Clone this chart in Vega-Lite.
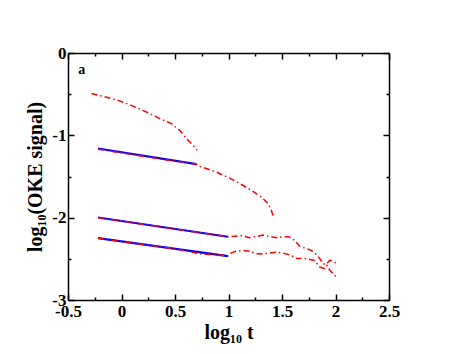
{
  "$schema": "https://vega.github.io/schema/vega-lite/v6.json",
  "width": 321,
  "height": 247,
  "autosize": {"type": "none"},
  "padding": {"left": 68, "top": 53, "right": 69, "bottom": 54},
  "background": "white",
  "datasets": {
    "curves": [
      {"kind": "fit", "series": "B", "x": -0.22, "y": -1.16},
      {"kind": "fit", "series": "B", "x": 0.70, "y": -1.35},
      {"kind": "fit", "series": "C", "x": -0.22, "y": -1.998},
      {"kind": "fit", "series": "C", "x": 0.995, "y": -2.232},
      {"kind": "fit", "series": "D", "x": -0.22, "y": -2.248},
      {"kind": "fit", "series": "D", "x": 0.995, "y": -2.467},

      {"kind": "data", "series": "A", "x": -0.281, "y": -0.493},
      {"kind": "data", "series": "A", "x": -0.173, "y": -0.526},
      {"kind": "data", "series": "A", "x": -0.033, "y": -0.575},
      {"kind": "data", "series": "A", "x": 0.092, "y": -0.636},
      {"kind": "data", "series": "A", "x": 0.233, "y": -0.717},
      {"kind": "data", "series": "A", "x": 0.357, "y": -0.797},
      {"kind": "data", "series": "A", "x": 0.466, "y": -0.858},
      {"kind": "data", "series": "A", "x": 0.544, "y": -0.939},
      {"kind": "data", "series": "A", "x": 0.607, "y": -1.04},
      {"kind": "data", "series": "A", "x": 0.668, "y": -1.12},
      {"kind": "data", "series": "A", "x": 0.706, "y": -1.18},

      {"kind": "data", "series": "B", "x": -0.22, "y": -1.168},
      {"kind": "data", "series": "B", "x": 0.0, "y": -1.213},
      {"kind": "data", "series": "B", "x": 0.2, "y": -1.254},
      {"kind": "data", "series": "B", "x": 0.4, "y": -1.295},
      {"kind": "data", "series": "B", "x": 0.6, "y": -1.331},
      {"kind": "data", "series": "B", "x": 0.70, "y": -1.352},
      {"kind": "data", "series": "B", "x": 0.731, "y": -1.377},
      {"kind": "data", "series": "B", "x": 0.887, "y": -1.446},
      {"kind": "data", "series": "B", "x": 1.011, "y": -1.52},
      {"kind": "data", "series": "B", "x": 1.106, "y": -1.587},
      {"kind": "data", "series": "B", "x": 1.214, "y": -1.668},
      {"kind": "data", "series": "B", "x": 1.308, "y": -1.75},
      {"kind": "data", "series": "B", "x": 1.37, "y": -1.83},
      {"kind": "data", "series": "B", "x": 1.40, "y": -1.91},
      {"kind": "data", "series": "B", "x": 1.425, "y": -2.01},

      {"kind": "data", "series": "C", "x": -0.22, "y": -2.0},
      {"kind": "data", "series": "C", "x": 0.0, "y": -2.04},
      {"kind": "data", "series": "C", "x": 0.2, "y": -2.08},
      {"kind": "data", "series": "C", "x": 0.4, "y": -2.118},
      {"kind": "data", "series": "C", "x": 0.6, "y": -2.157},
      {"kind": "data", "series": "C", "x": 0.8, "y": -2.195},
      {"kind": "data", "series": "C", "x": 0.995, "y": -2.232},
      {"kind": "data", "series": "C", "x": 1.06, "y": -2.225},
      {"kind": "data", "series": "C", "x": 1.12, "y": -2.218},
      {"kind": "data", "series": "C", "x": 1.198, "y": -2.245},
      {"kind": "data", "series": "C", "x": 1.26, "y": -2.23},
      {"kind": "data", "series": "C", "x": 1.322, "y": -2.212},
      {"kind": "data", "series": "C", "x": 1.385, "y": -2.228},
      {"kind": "data", "series": "C", "x": 1.447, "y": -2.243},
      {"kind": "data", "series": "C", "x": 1.51, "y": -2.232},
      {"kind": "data", "series": "C", "x": 1.572, "y": -2.236},
      {"kind": "data", "series": "C", "x": 1.619, "y": -2.277},
      {"kind": "data", "series": "C", "x": 1.665, "y": -2.349},
      {"kind": "data", "series": "C", "x": 1.72, "y": -2.37},
      {"kind": "data", "series": "C", "x": 1.759, "y": -2.389},
      {"kind": "data", "series": "C", "x": 1.80, "y": -2.42},
      {"kind": "data", "series": "C", "x": 1.836, "y": -2.47},
      {"kind": "data", "series": "C", "x": 1.865, "y": -2.52},
      {"kind": "data", "series": "C", "x": 1.883, "y": -2.559},
      {"kind": "data", "series": "C", "x": 1.91, "y": -2.57},
      {"kind": "data", "series": "C", "x": 1.946, "y": -2.519},
      {"kind": "data", "series": "C", "x": 1.975, "y": -2.53},
      {"kind": "data", "series": "C", "x": 2.008, "y": -2.552},

      {"kind": "data", "series": "D", "x": -0.22, "y": -2.25},
      {"kind": "data", "series": "D", "x": 0.0, "y": -2.29},
      {"kind": "data", "series": "D", "x": 0.2, "y": -2.325},
      {"kind": "data", "series": "D", "x": 0.4, "y": -2.36},
      {"kind": "data", "series": "D", "x": 0.55, "y": -2.39},
      {"kind": "data", "series": "D", "x": 0.62, "y": -2.41},
      {"kind": "data", "series": "D", "x": 0.668, "y": -2.42},
      {"kind": "data", "series": "D", "x": 0.72, "y": -2.44},
      {"kind": "data", "series": "D", "x": 0.8, "y": -2.445},
      {"kind": "data", "series": "D", "x": 0.9, "y": -2.45},
      {"kind": "data", "series": "D", "x": 0.995, "y": -2.465},
      {"kind": "data", "series": "D", "x": 1.011, "y": -2.44},
      {"kind": "data", "series": "D", "x": 1.06, "y": -2.41},
      {"kind": "data", "series": "D", "x": 1.136, "y": -2.397},
      {"kind": "data", "series": "D", "x": 1.2, "y": -2.41},
      {"kind": "data", "series": "D", "x": 1.26, "y": -2.438},
      {"kind": "data", "series": "D", "x": 1.32, "y": -2.44},
      {"kind": "data", "series": "D", "x": 1.385, "y": -2.43},
      {"kind": "data", "series": "D", "x": 1.447, "y": -2.418},
      {"kind": "data", "series": "D", "x": 1.5, "y": -2.43},
      {"kind": "data", "series": "D", "x": 1.556, "y": -2.446},
      {"kind": "data", "series": "D", "x": 1.6, "y": -2.47},
      {"kind": "data", "series": "D", "x": 1.649, "y": -2.499},
      {"kind": "data", "series": "D", "x": 1.69, "y": -2.49},
      {"kind": "data", "series": "D", "x": 1.727, "y": -2.499},
      {"kind": "data", "series": "D", "x": 1.77, "y": -2.51},
      {"kind": "data", "series": "D", "x": 1.805, "y": -2.519},
      {"kind": "data", "series": "D", "x": 1.852, "y": -2.6},
      {"kind": "data", "series": "D", "x": 1.899, "y": -2.62},
      {"kind": "data", "series": "D", "x": 1.92, "y": -2.58},
      {"kind": "data", "series": "D", "x": 1.946, "y": -2.64},
      {"kind": "data", "series": "D", "x": 1.977, "y": -2.68},
      {"kind": "data", "series": "D", "x": 2.002, "y": -2.713}
    ],
    "label": [{"text": "a", "x": -0.372, "y": -0.21}]
  },
  "layer": [
    {
      "data": {"name": "curves"},
      "transform": [{"filter": "datum.kind === 'fit'"}],
      "mark": {"type": "line", "color": "#0000ff", "strokeWidth": 2.2},
      "encoding": {
        "x": {"field": "x", "type": "quantitative", "scale": {"domain": [-0.5, 2.5], "nice": false, "zero": false},
              "axis": {"orient": "bottom", "values": [-0.5, 0, 0.5, 1, 1.5, 2, 2.5], "tickSize": -6, "labelPadding": 9,
                       "labelExpr": "toString(datum.value)", "title": "log₁₀ t", "titlePadding": 3}},
        "y": {"field": "y", "type": "quantitative", "scale": {"domain": [-3, 0], "nice": false, "zero": false},
              "axis": {"orient": "left", "values": [-3, -2, -1, 0], "tickSize": -6, "labelPadding": 8,
                       "labelExpr": "toString(datum.value)", "title": "log₁₀(OKE signal)", "titlePadding": 6}},
        "detail": {"field": "series"}
      }
    },
    {
      "data": {"name": "curves"},
      "transform": [{"filter": "datum.kind === 'data' && datum.series !== 'A'"}],
      "mark": {"type": "line", "color": "#ff0000", "strokeWidth": 1.5, "strokeDash": [6, 3, 1.5, 3]},
      "encoding": {
        "x": {"field": "x", "type": "quantitative",
              "axis": {"orient": "bottom", "values": [-0.25, 0.25, 0.75, 1.25, 1.75, 2.25], "tickSize": -3, "labels": false, "domain": false, "title": null}},
        "y": {"field": "y", "type": "quantitative",
              "axis": {"orient": "left", "values": [-2.5, -1.5, -0.5], "tickSize": -3, "labels": false, "domain": false, "title": null}},
        "detail": {"field": "series"}
      }
    },
    {
      "data": {"name": "curves"},
      "transform": [{"filter": "datum.kind === 'data' && datum.series === 'A'"}],
      "mark": {"type": "line", "color": "#ff0000", "strokeWidth": 1.5, "strokeDash": [6, 3, 1.5, 3]},
      "encoding": {
        "x": {"field": "x", "type": "quantitative",
              "axis": {"orient": "top", "values": [-0.5, 0, 0.5, 1, 1.5, 2, 2.5], "tickSize": -6, "labels": false, "title": null}},
        "y": {"field": "y", "type": "quantitative",
              "axis": {"orient": "right", "values": [-3, -2, -1, 0], "tickSize": -6, "labels": false, "title": null}}
      }
    },
    {
      "data": {"name": "label"},
      "mark": {"type": "text", "font": "Liberation Serif", "fontWeight": "bold", "fontSize": 14, "color": "black", "align": "center", "baseline": "middle"},
      "encoding": {
        "x": {"field": "x", "type": "quantitative",
              "axis": {"orient": "top", "values": [-0.25, 0.25, 0.75, 1.25, 1.75, 2.25], "tickSize": -3, "labels": false, "domain": false, "title": null}},
        "y": {"field": "y", "type": "quantitative",
              "axis": {"orient": "right", "values": [-2.5, -1.5, -0.5], "tickSize": -3, "labels": false, "domain": false, "title": null}},
        "text": {"field": "text"}
      }
    }
  ],
  "resolve": {"axis": {"x": "independent", "y": "independent"}},
  "config": {
    "view": {"stroke": null},
    "axis": {
      "grid": false,
      "labelFont": "Liberation Serif", "labelFontWeight": "bold", "labelFontSize": 17, "labelColor": "black",
      "titleFont": "Liberation Serif", "titleFontWeight": "bold", "titleFontSize": 20, "titleColor": "black",
      "domainColor": "black", "domainWidth": 1.5, "tickColor": "black", "tickWidth": 1.5,
      "labelFlush": false, "labelOverlap": false
    }
  }
}
